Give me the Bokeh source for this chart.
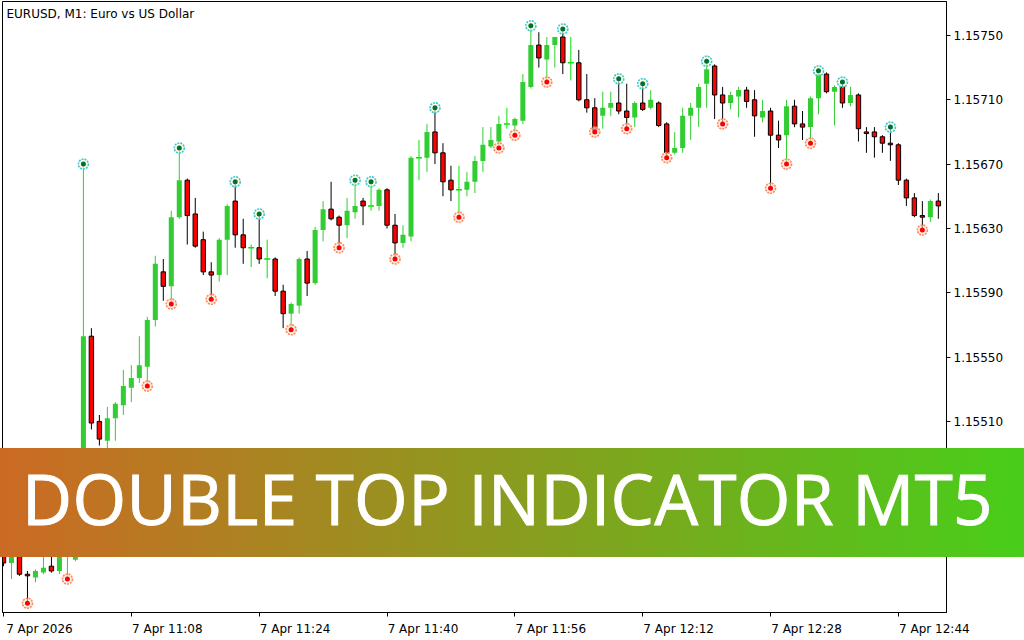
from bokeh.plotting import figure
from bokeh.models import Range1d, FixedTicker, PrintfTickFormatter, Label, ColumnDataSource, Div
from bokeh.embed import file_html
from bokeh.resources import INLINE

# ---------------- data ----------------
chart_title = "EURUSD, M1:  Euro vs US Dollar"
banner_text = "DOUBLE TOP INDICATOR MT5"

opens = [1.15430, 1.15422, 1.15429, 1.15415, 1.15413, 1.15416, 1.15420, 1.15417, 1.15427, 1.15424,
         1.15445, 1.15563, 1.15510, 1.15498, 1.15512, 1.15520, 1.15531, 1.15537, 1.15544, 1.15573,
         1.15603, 1.15594, 1.15637, 1.15660, 1.15639, 1.15623, 1.15603, 1.15601, 1.15623, 1.15647,
         1.15626, 1.15618, 1.15618, 1.15611, 1.15611, 1.15591, 1.15577, 1.15582, 1.15611, 1.15596,
         1.15629, 1.15642, 1.15637, 1.15632, 1.15640, 1.15647, 1.15644, 1.15644, 1.15654, 1.15632,
         1.15621, 1.15625, 1.15674, 1.15674, 1.15690, 1.15677, 1.15660, 1.15654, 1.15654, 1.15659,
         1.15672, 1.15681, 1.15684, 1.15695, 1.15694, 1.15697, 1.15718, 1.15744, 1.15735, 1.15744,
         1.15749, 1.15733, 1.15733, 1.15710, 1.15705, 1.15700, 1.15705, 1.15708, 1.15703, 1.15699,
         1.15708, 1.15705, 1.15708, 1.15695, 1.15677, 1.15680, 1.15700, 1.15705, 1.15720, 1.15731,
         1.15713, 1.15708, 1.15712, 1.15716, 1.15710, 1.15699, 1.15703, 1.15688, 1.15688, 1.15706,
         1.15695, 1.15693, 1.15711, 1.15726, 1.15715, 1.15718, 1.15708, 1.15713, 1.15690, 1.15690,
         1.15687, 1.15683, 1.15682, 1.15660, 1.15649, 1.15638, 1.15637, 1.15647]
highs = [1.15433, 1.15431, 1.15431, 1.15417, 1.15418, 1.15427, 1.15427, 1.15431, 1.15439, 1.15448,
         1.15670, 1.15568, 1.15514, 1.15519, 1.15522, 1.15542, 1.15545, 1.15563, 1.15575, 1.15613,
         1.15611, 1.15641, 1.15680, 1.15661, 1.15649, 1.15628, 1.15609, 1.15624, 1.15645, 1.15659,
         1.15636, 1.15620, 1.15639, 1.15623, 1.15612, 1.15595, 1.15584, 1.15612, 1.15616, 1.15631,
         1.15647, 1.15659, 1.15638, 1.15649, 1.15660, 1.15649, 1.15659, 1.15655, 1.15655, 1.15639,
         1.15632, 1.15675, 1.15685, 1.15695, 1.15705, 1.15683, 1.15669, 1.15669, 1.15665, 1.15675,
         1.15693, 1.15693, 1.15700, 1.15705, 1.15699, 1.15726, 1.15756, 1.15752, 1.15749, 1.15749,
         1.15754, 1.15749, 1.15741, 1.15726, 1.15711, 1.15715, 1.15715, 1.15723, 1.15720, 1.15709,
         1.15720, 1.15716, 1.15709, 1.15696, 1.15690, 1.15705, 1.15708, 1.15720, 1.15734, 1.15732,
         1.15718, 1.15715, 1.15718, 1.15718, 1.15716, 1.15710, 1.15705, 1.15697, 1.15710, 1.15710,
         1.15703, 1.15712, 1.15728, 1.15727, 1.15719, 1.15721, 1.15718, 1.15714, 1.15693, 1.15693,
         1.15688, 1.15693, 1.15683, 1.15661, 1.15652, 1.15647, 1.15648, 1.15652]
lows = [1.15420, 1.15412, 1.15414, 1.15397, 1.15410, 1.15415, 1.15416, 1.15415, 1.15412, 1.15423,
        1.15442, 1.15505, 1.15495, 1.15493, 1.15498, 1.15514, 1.15522, 1.15534, 1.15532, 1.15569,
        1.15585, 1.15583, 1.15636, 1.15620, 1.15618, 1.15601, 1.15586, 1.15597, 1.15601, 1.15618,
        1.15608, 1.15606, 1.15608, 1.15599, 1.15588, 1.15568, 1.15567, 1.15577, 1.15588, 1.15595,
        1.15622, 1.15635, 1.15618, 1.15624, 1.15636, 1.15632, 1.15641, 1.15641, 1.15630, 1.15611,
        1.15618, 1.15622, 1.15660, 1.15665, 1.15670, 1.15650, 1.15647, 1.15637, 1.15650, 1.15652,
        1.15665, 1.15680, 1.15680, 1.15692, 1.15688, 1.15695, 1.15717, 1.15730, 1.15721, 1.15730,
        1.15726, 1.15722, 1.15709, 1.15702, 1.15690, 1.15692, 1.15700, 1.15701, 1.15692, 1.15693,
        1.15703, 1.15704, 1.15693, 1.15674, 1.15676, 1.15677, 1.15685, 1.15693, 1.15705, 1.15698,
        1.15695, 1.15704, 1.15699, 1.15705, 1.15687, 1.15696, 1.15655, 1.15680, 1.15670, 1.15693,
        1.15685, 1.15683, 1.15701, 1.15714, 1.15694, 1.15705, 1.15706, 1.15684, 1.15677, 1.15674,
        1.15677, 1.15672, 1.15657, 1.15644, 1.15637, 1.15629, 1.15634, 1.15636]
closes = [1.15422, 1.15429, 1.15415, 1.15414, 1.15417, 1.15419, 1.15417, 1.15429, 1.15436, 1.15445,
          1.15563, 1.15509, 1.15499, 1.15512, 1.15521, 1.15532, 1.15537, 1.15545, 1.15573, 1.15608,
          1.15594, 1.15637, 1.15660, 1.15638, 1.15619, 1.15603, 1.15601, 1.15623, 1.15644, 1.15626,
          1.15618, 1.15618, 1.15611, 1.15611, 1.15591, 1.15577, 1.15583, 1.15611, 1.15596, 1.15629,
          1.15642, 1.15636, 1.15632, 1.15641, 1.15644, 1.15644, 1.15644, 1.15654, 1.15632, 1.15621,
          1.15626, 1.15674, 1.15674, 1.15690, 1.15677, 1.15659, 1.15654, 1.15654, 1.15659, 1.15672,
          1.15682, 1.15685, 1.15695, 1.15695, 1.15698, 1.15721, 1.15744, 1.15736, 1.15744, 1.15749,
          1.15733, 1.15733, 1.15710, 1.15705, 1.15691, 1.15705, 1.15708, 1.15703, 1.15699, 1.15708,
          1.15704, 1.15710, 1.15694, 1.15677, 1.15680, 1.15700, 1.15705, 1.15718, 1.15729, 1.15713,
          1.15708, 1.15713, 1.15716, 1.15709, 1.15700, 1.15703, 1.15688, 1.15685, 1.15706, 1.15695,
          1.15693, 1.15711, 1.15726, 1.15715, 1.15718, 1.15708, 1.15713, 1.15692, 1.15689, 1.15687,
          1.15683, 1.15682, 1.15660, 1.15649, 1.15638, 1.15637, 1.15647, 1.15644]

# candles carrying an indicator mark (index of candle)
top_marks = [10, 22, 29, 32, 44, 46, 54, 66, 70, 77, 80, 88, 102, 105, 111]
bottom_marks = [3, 8, 18, 21, 26, 36, 42, 49, 57, 62, 64, 68, 74, 78, 83, 90, 96, 98, 101, 115]

time_ticks = [0, 16, 32, 48, 64, 80, 96, 112]
time_labels = ["7 Apr 2026", "7 Apr 11:08", "7 Apr 11:24", "7 Apr 11:40",
               "7 Apr 11:56", "7 Apr 12:12", "7 Apr 12:28", "7 Apr 12:44"]
price_ticks = [1.15430, 1.15470, 1.15510, 1.15550, 1.15590, 1.15630, 1.15670, 1.15710, 1.15750]

# ---------------- styling ----------------
FONT = "DejaVu Sans"
BULL = "#32cd32"
BEAR = "#ff0000"
DOJI = "#00e600"

X_START, X_END = -0.125, 118.02
Y_START, Y_END = 1.153912, 1.157711
FRAME_W, FRAME_H = 944, 611
LABEL_SHIFT = 4.5   # labels start at their tick (MT5 style), so their centre sits right of it

p = figure(frame_width=FRAME_W, frame_height=FRAME_H, output_backend="svg",
           toolbar_location=None, tools="", title=None,
           x_range=Range1d(X_START, X_END), y_range=Range1d(Y_START, Y_END),
           y_axis_location="right",
           min_border_left=2, min_border_top=1, min_border_right=78, min_border_bottom=28)
p.background_fill_color = "white"
p.border_fill_color = "white"
p.outline_line_color = "black"
p.outline_line_width = 1
p.xgrid.visible = False
p.ygrid.visible = False

label_pos = [t + LABEL_SHIFT for t in time_ticks]
p.xaxis.ticker = FixedTicker(ticks=label_pos, minor_ticks=time_ticks)
p.xaxis.major_label_overrides = {pos: lab for pos, lab in zip(label_pos, time_labels)}
p.xaxis.major_label_text_font = FONT
p.xaxis.major_label_text_font_size = "12px"
p.xaxis.major_label_text_color = "black"
p.xaxis.major_label_standoff = 5
p.xaxis.major_tick_out = 0
p.xaxis.major_tick_in = 0
p.xaxis.major_tick_line_color = None
p.xaxis.minor_tick_out = 4
p.xaxis.minor_tick_in = 0
p.xaxis.minor_tick_line_color = "black"
p.xaxis.axis_line_color = "black"

p.yaxis.ticker = FixedTicker(ticks=price_ticks)
p.yaxis.formatter = PrintfTickFormatter(format="%.5f")
p.yaxis.major_label_text_font = FONT
p.yaxis.major_label_text_font_size = "12px"
p.yaxis.major_label_text_color = "black"
p.yaxis.major_label_standoff = 3
p.yaxis.major_tick_out = 4
p.yaxis.major_tick_in = 0
p.yaxis.minor_tick_line_color = None
p.yaxis.axis_line_color = "black"
p.yaxis.major_tick_line_color = "black"

# ---------------- candles ----------------
def subset(cond):
    d = dict(x=[], o=[], h=[], l=[], c=[], top=[], bot=[])
    for i, (o, h, l, c) in enumerate(zip(opens, highs, lows, closes)):
        if cond(o, c):
            d["x"].append(i); d["o"].append(o); d["h"].append(h); d["l"].append(l); d["c"].append(c)
            d["top"].append(max(o, c)); d["bot"].append(min(o, c))
    return ColumnDataSource(d)

bull = subset(lambda o, c: c > o)
bear = subset(lambda o, c: c < o)
doji = subset(lambda o, c: c == o)

p.segment(x0="x", y0="l", x1="x", y1="h", source=bull, line_color=BULL, line_width=1)
p.vbar(x="x", width=0.63, top="top", bottom="bot", source=bull, fill_color=BULL, line_color=None)

p.segment(x0="x", y0="l", x1="x", y1="h", source=bear, line_color="black", line_width=1)
p.vbar(x="x", width=0.55, top="top", bottom="bot", source=bear, fill_color=BEAR,
       line_color="black", line_width=1)

p.segment(x0="x", y0="l", x1="x", y1="h", source=doji, line_color=DOJI, line_width=1)
p.scatter(x="x", y="o", source=doji, marker="dash", size=6, line_color=DOJI, line_width=1.5)

# ---------------- indicator marks ----------------
top_src = ColumnDataSource(dict(x=top_marks, y=[highs[i] for i in top_marks]))
bot_src = ColumnDataSource(dict(x=bottom_marks, y=[lows[i] for i in bottom_marks]))

p.scatter(x="x", y="y", source=top_src, marker="circle", size=10, fill_color="#fffbd0",
          fill_alpha=0.6, line_color="#3cc8d8", line_dash="2 1", line_width=1.6)
p.scatter(x="x", y="y", source=top_src, marker="circle", size=5, fill_color="#00703a", line_color=None)

p.scatter(x="x", y="y", source=bot_src, marker="circle", size=10, fill_color="#ffe4d8",
          fill_alpha=0.6, line_color="#ff8a5c", line_dash="2 1", line_width=1.6)
p.scatter(x="x", y="y", source=bot_src, marker="circle", size=5, fill_color="#ff0000", line_color=None)

# ---------------- chart title ----------------
p.add_layout(Label(x=4, y=FRAME_H - 12, x_units="screen", y_units="screen", text=chart_title,
                   text_font=FONT, text_font_size="12px", text_color="black",
                   text_baseline="middle", text_align="left"))

# ---------------- banner overlay ----------------
banner = Div(text=banner_text, width=1024, height=109, margin=0,
             styles={"position": "absolute", "left": "0px", "top": "448px", "margin": "0px",
                     "width": "1024px", "height": "109px", "box-sizing": "border-box",
                     "background": "linear-gradient(90deg, #cc6a24 0%, #48ce1a 100%)",
                     "color": "white", "font-family": "'Open Sans'", "font-size": "69px",
                     "letter-spacing": "0.4px", "-webkit-text-stroke": "1px white",
                     "line-height": "69px", "text-align": "center", "white-space": "nowrap",
                     "padding-top": "16px", "padding-right": "9px", "z-index": "10",
                     "overflow": "hidden"})

html = file_html([p, banner], INLINE, title="EURUSD M1")
open("out.html", "w").write(html)
